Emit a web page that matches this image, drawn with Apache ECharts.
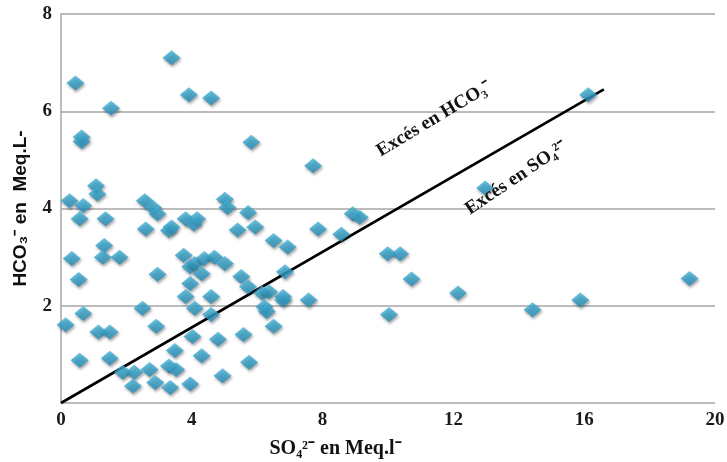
<!DOCTYPE html>
<html>
<head>
<meta charset="utf-8">
<script src="https://cdn.jsdelivr.net/npm/echarts@6/dist/echarts.min.js"></script>
<style>html,body{margin:0;padding:0;background:#fff}#c{width:727px;height:462px}</style>
</head>
<body>
<div id="c"></div>
<script>
// SO4 2- (meq/L) and HCO3- (meq/L) for each sample
const so4 = [3.38,0.44,3.91,4.59,1.53,0.63,0.63,5.82,7.71,16.12,12.97,1.07,1.11,0.26,0.68,0.57,1.36,2.56,2.81,2.95,2.59,3.38,3.30,3.81,4.16,4.06,5.01,5.09,5.72,5.40,5.94,6.50,6.93,7.86,8.57,8.92,9.13,1.32,1.28,0.33,1.79,0.54,2.95,3.75,3.95,4.09,4.30,3.95,4.38,4.69,5.01,5.51,5.72,6.85,3.81,4.59,4.09,4.59,6.15,6.36,6.79,6.79,6.22,6.29,6.50,7.57,9.99,10.37,10.72,10.03,12.14,14.42,15.88,19.22,2.49,0.68,0.14,1.14,1.49,2.91,4.02,4.80,5.58,3.48,0.57,1.49,4.30,5.75,1.89,2.24,2.71,3.30,3.52,2.88,2.20,3.34,3.95,4.94];
const hco3 = [7.10,6.58,6.34,6.27,6.06,5.47,5.38,5.36,4.88,6.34,4.42,4.47,4.30,4.16,4.06,3.79,3.79,4.16,4.02,3.89,3.58,3.62,3.55,3.79,3.79,3.68,4.19,4.02,3.92,3.56,3.62,3.34,3.21,3.58,3.47,3.89,3.82,3.24,3.00,2.97,3.00,2.54,2.65,3.04,2.80,2.87,2.66,2.46,2.97,3.00,2.87,2.60,2.39,2.70,2.19,2.19,1.95,1.82,2.26,2.29,2.19,2.12,1.98,1.88,1.58,2.12,3.07,3.07,2.55,1.82,2.26,1.92,2.12,2.56,1.95,1.84,1.61,1.46,1.46,1.58,1.37,1.31,1.41,1.08,0.88,0.92,0.97,0.84,0.63,0.63,0.69,0.76,0.69,0.42,0.35,0.32,0.39,0.56];
// separation line endpoints (x, y)
const lineX = [0, 16.6];
const lineY = [0, 6.45];
const xTicks = [0, 4, 8, 12, 16, 20];
const yTicks = [2, 4, 6, 8];
const xTitle = 'SO\u2084\u00b2\u207b en Meq.l\u207b';
const yTitle = 'HCO\u2083\u207b en  Meq.L-';
const noteUp = 'Exc\u00e9s en HCO\u2083\u207b';
const noteDown = 'Exc\u00e9s en SO\u2084\u00b2\u207b';

const pts = so4.map((x, i) => [x, hco3[i]]);
const linePts = lineX.map((x, i) => [x, lineY[i]]);

const chart = echarts.init(document.getElementById('c'));
const serif = '"Liberation Serif", "Times New Roman", serif';
chart.setOption({
  animation: false,
  grid: {left: 61, right: 12, top: 14, bottom: 59, containLabel: false, outerBoundsMode: 'none'},
  xAxis: {
    type: 'value', min: 0, max: 20, interval: 4,
    axisLine: {show: false}, axisTick: {show: false}, splitLine: {show: false},
    axisLabel: {fontFamily: serif, fontWeight: 'bold', fontSize: 19, color: '#1a1a1a', margin: 8,
      formatter: v => xTicks.includes(v) ? String(v) : ''},
    name: xTitle, nameLocation: 'middle', nameGap: 36,
    nameTextStyle: {fontFamily: serif, fontWeight: 'bold', fontSize: 20, color: '#111', padding: [0, 105, 0, 0]}
  },
  yAxis: {
    type: 'value', min: 0, max: 8, interval: 2,
    axisLine: {show: true, lineStyle: {color: '#a6a6a6', width: 1.5}},
    axisTick: {show: false},
    splitLine: {show: true, lineStyle: {color: '#a6a6a6', width: 1.5}},
    axisLabel: {fontFamily: serif, fontWeight: 'bold', fontSize: 19, color: '#1a1a1a', margin: 9,
      formatter: v => yTicks.includes(v) ? String(v) : ''},
    name: yTitle, nameLocation: 'middle', nameGap: 31, nameRotate: 90,
    nameTextStyle: {fontFamily: '"Liberation Sans", Arial, sans-serif', fontWeight: 'bold', fontSize: 19, color: '#111'}
  },
  series: [
    {
      type: 'line', data: linePts, symbol: 'none', z: 3,
      lineStyle: {color: '#000', width: 2.6}
    },
    {
      type: 'scatter', data: pts, symbol: 'diamond', symbolSize: [18, 15], z: 4,
      itemStyle: {
        color: new echarts.graphic.LinearGradient(0, 0, 0, 1, [
          {offset: 0, color: '#45b4da'}, {offset: 1, color: '#238db6'}
        ]),
        shadowBlur: 3, shadowColor: 'rgba(0,0,0,0.45)', shadowOffsetX: 1, shadowOffsetY: 2
      }
    }
  ],
  graphic: [
    {type: 'text', x: 434, y: 119, rotation: 31 * Math.PI / 180, z: 10,
      style: {text: noteUp, font: 'bold 19px ' + serif, fill: '#111', align: 'center', verticalAlign: 'middle'}},
    {type: 'text', x: 516, y: 178, rotation: 34 * Math.PI / 180, z: 10,
      style: {text: noteDown, font: 'bold 19px ' + serif, fill: '#111', align: 'center', verticalAlign: 'middle'}}
  ]
});
</script>
</body>
</html>
